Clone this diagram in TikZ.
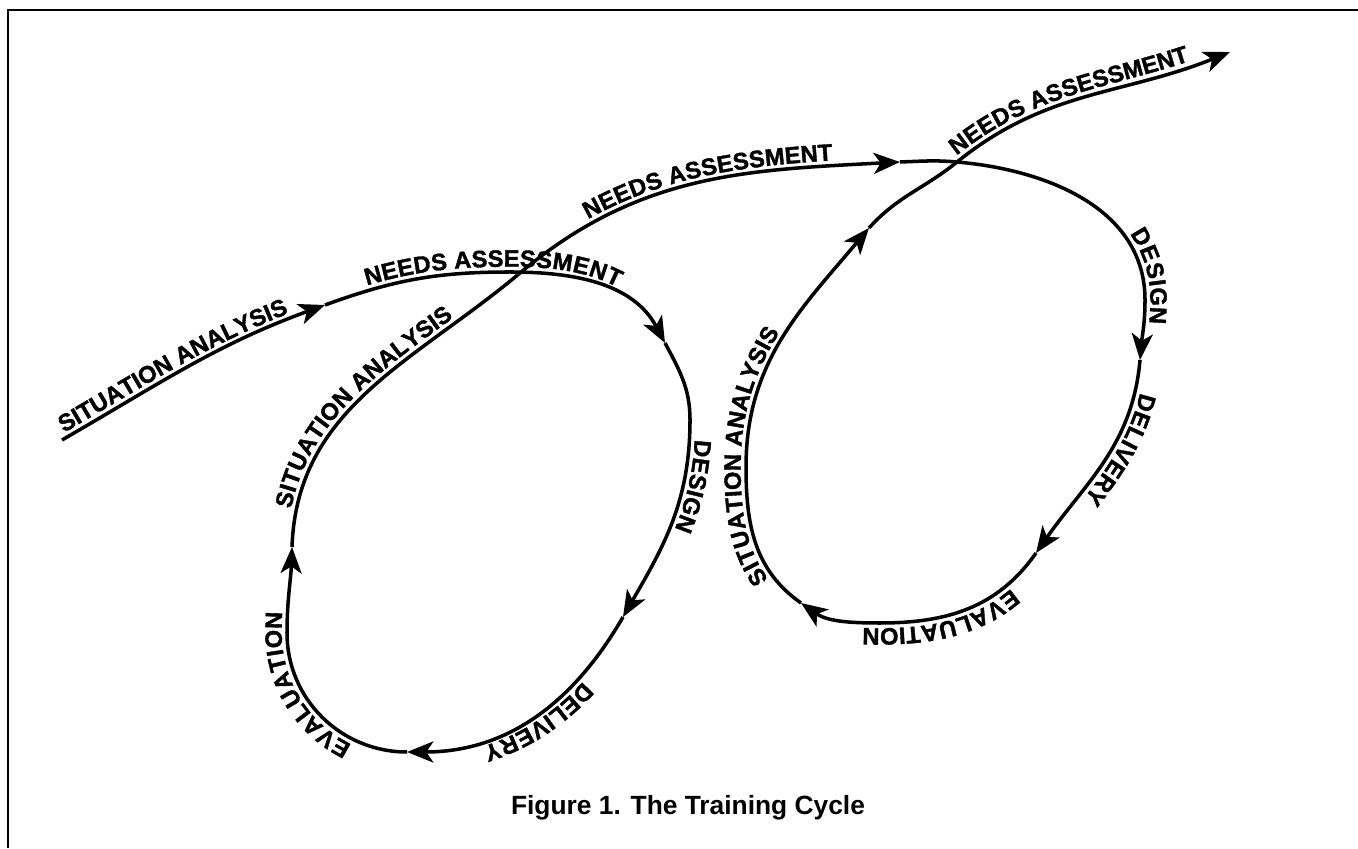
\documentclass[tikz,border=0pt]{standalone}
\usepackage{fontspec}
\setmainfont{Liberation Sans}
\newfontfamily\labelfont[FakeBold=1.5]{Liberation Sans Bold}
\usetikzlibrary{arrows.meta,decorations.text}

\tikzset{
  cycleline/.style={line width=2pt},
  cyclearrow/.style={cycleline,-{Stealth[length=15pt,width=12pt,inset=4pt]}},
  tag/.style 2 args={postaction={decorate},
    decoration={text along path,raise=3pt,text align={#1},text={#2}}}
}

\begin{document}
\labelfont\fontsize{13.5}{16}\selectfont
\begin{tikzpicture}[x=0.02cm,y=0.02cm]
    \useasboundingbox (0,0) rectangle (1358,848);
    \draw[line width=0.8pt] (8,0) -- (8,838) -- (1358,838);% frame, top and left only

    % first loop
    \coordinate (Start)  at (62,408);
    \coordinate (TipA)   at (325,543);
    \coordinate (TopA)   at (510,576);
    \coordinate (TipB)   at (665,505);
    \coordinate (EastA)  at (690,428);
    \coordinate (TipC)   at (623,231);
    \coordinate (TipD)   at (407,96);
    \coordinate (WestA)  at (287,215);
    \coordinate (TipE)   at (292,301);
    \coordinate (CrossA) at (520,575);
    % second loop
    \coordinate (TipF)   at (900,686);
    \coordinate (CrossB) at (957,686);
    \coordinate (EastB)  at (1145,548);
    \coordinate (TipG)   at (1140,488);
    \coordinate (TipH)   at (1036,295);
    \coordinate (SouthB) at (880,225);
    \coordinate (TipI)   at (801,245);
    \coordinate (WestB)  at (746,381);
    \coordinate (TipJ)   at (869,620);
    \coordinate (End)    at (1230,796);

    \draw[cyclearrow,tag={left,left indent=3pt}{SITUATION ANALYSIS}] (Start) to[out=30,in=200] (TipA);
    \draw[cyclearrow,tag={left,left indent=26pt}{NEEDS ASSESSMENT}] (TipA) to[out=20,in=180] (TopA) to[out=0,in=118] (TipB);
    \draw[cyclearrow,tag={center}{DESIGN}] (TipB) to[out=-62,in=90] (EastA) to[out=-90,in=60] (TipC);
    \draw[cyclearrow,tag={center}{DELIVERY}] (TipC) to[out=-120,in=0] (TipD);
    \draw[cyclearrow,tag={left,left indent=31pt}{EVALUATION}] (TipD) to[out=180,in=-90] (WestA) to[out=90,in=-92] (TipE);
    \draw[cycleline,tag={left,left indent=21pt}{SITUATION ANALYSIS}] (TipE) to[out=88,in=220] (CrossA);
    \draw[cyclearrow,tag={left,left indent=49pt}{NEEDS ASSESSMENT}] (CrossA) to[out=40,in=183] (TipF);

    \draw[cycleline] (TipF) to[out=2,in=175] (CrossB);
    \draw[cyclearrow,tag={right,right indent=21pt}{DESIGN}] (CrossB) to[out=-5,in=90] (EastB) to[out=-90,in=85] (TipG);
    \draw[cyclearrow,tag={left,left indent=18pt}{DELIVERY}] (TipG) to[out=-95,in=55] (TipH);
    \draw[cyclearrow,tag={left,left indent=24pt}{EVALUATION}] (TipH) to[out=-125,in=0] (SouthB) to[out=180,in=-35] (TipI);
    \draw[cyclearrow,tag={left,left indent=22pt}{SITUATION ANALYSIS}] (TipI) to[out=145,in=-90] (WestB) to[out=90,in=230] (TipJ);
    \draw[cycleline] (TipJ) to[out=48,in=219] (CrossB);
    \draw[cyclearrow,tag={left,left indent=2pt}{NEEDS ASSESSMENT}] (CrossB) to[out=39,in=202] (End);

    \node[anchor=base,font=\normalfont\bfseries\fontsize{15}{18}\selectfont] (Caption) at (688,33) {Figure 1. The Training Cycle};
\end{tikzpicture}
\end{document}
